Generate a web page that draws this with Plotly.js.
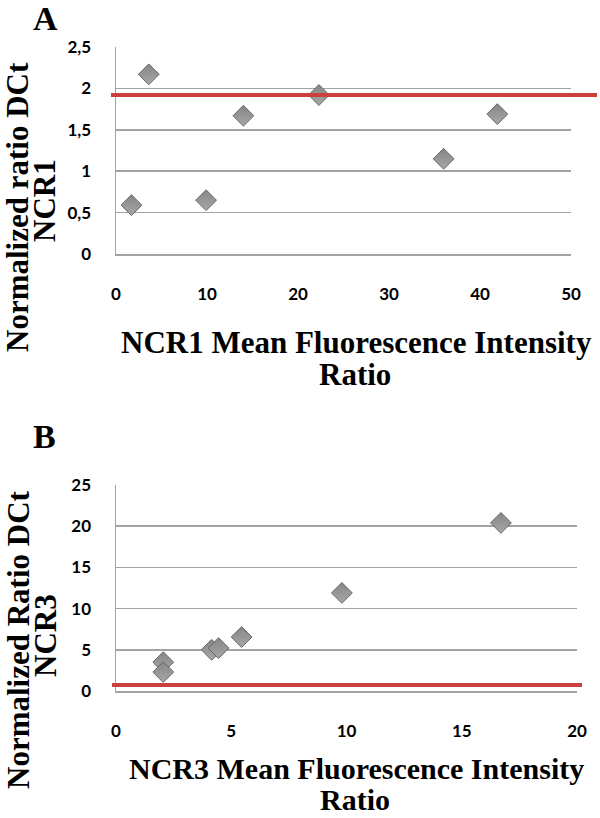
<!DOCTYPE html>
<html>
<head>
<meta charset="utf-8">
<script src="https://cdn.plot.ly/plotly-3.0.1.min.js"></script>
<style>html,body{margin:0;padding:0;background:#fff;}#chart{width:600px;height:818px;}</style>
</head>
<body>
<div id="chart"></div>
<script>
// Panel A data (NCR1)
var ncr1MFI = [1.7, 3.6, 9.9, 14.0, 22.3, 36.0, 41.9];
var ncr1Ratio = [0.59, 2.17, 0.65, 1.67, 1.92, 1.15, 1.69];
var ncr1Threshold = 1.92;
var ncr1XTicks = [0, 10, 20, 30, 40, 50];
var ncr1YTicks = [0, 0.5, 1, 1.5, 2, 2.5];
var ncr1YTickText = ["0", "0,5", "1", "1,5", "2", "2,5"];

// Panel B data (NCR3)
var ncr3MFI = [2.05, 2.05, 4.15, 4.45, 5.45, 9.8, 16.7];
var ncr3Ratio = [3.5, 2.3, 5.0, 5.2, 6.55, 11.9, 20.4];
var ncr3Threshold = 0.73;
var ncr3XTicks = [0, 5, 10, 15, 20];
var ncr3YTicks = [0, 5, 10, 15, 20, 25];
var ncr3YTickText = ["0", "5", "10", "15", "20", "25"];

var W = 600, H = 818;
function px(x){ return x / W; }
function py(y){ return 1 - y / H; }

var markerStyle = {
  symbol: 'diamond', size: 16, color: '#858585',
  line: {color: '#686868', width: 1},
  gradient: {type: 'vertical', color: '#a8a8a8'}
};

var traces = [
  {x: ncr1MFI, y: ncr1Ratio, type: 'scatter', mode: 'markers', marker: markerStyle, xaxis: 'x', yaxis: 'y', hoverinfo: 'skip'},
  {x: ncr3MFI, y: ncr3Ratio, type: 'scatter', mode: 'markers', marker: markerStyle, xaxis: 'x2', yaxis: 'y2', hoverinfo: 'skip'}
];

var tickFont = {family: 'Lato, "Open Sans", sans-serif', size: 17, color: '#000', weight: 'bold'};
var gridCol = '#a3a3a3';

function xAxis(domain, anchor, range, ticks){
  return {domain: domain, anchor: anchor, range: range, tickmode: 'array', tickvals: ticks,
    ticktext: ticks.map(String), showgrid: false, zeroline: false, showline: true,
    linecolor: gridCol, linewidth: 1.5, ticks: '', tickfont: tickFont, ticklabelstandoff: 24, fixedrange: true};
}
function yAxis(domain, anchor, range, ticks, text){
  return {domain: domain, anchor: anchor, range: range, tickmode: 'array', tickvals: ticks,
    ticktext: text, showgrid: true, gridcolor: gridCol, gridwidth: 1.5, zeroline: false,
    showline: true, linecolor: gridCol, linewidth: 1.5, ticks: '', tickfont: tickFont,
    ticklabelstandoff: 20, fixedrange: true};
}

var serif = {family: '"Liberation Serif", "Times New Roman", serif', color: '#000', weight: 'bold'};
function ann(text, x, y, size, angle){
  return {text: text, xref: 'paper', yref: 'paper', x: px(x), y: py(y), xanchor: 'center', yanchor: 'middle',
    showarrow: false, textangle: angle || 0, font: Object.assign({}, serif, {size: size})};
}

var layout = {
  width: W, height: H, autosize: false,
  margin: {l: 0, r: 0, t: 0, b: 0, pad: 0},
  paper_bgcolor: '#fff', plot_bgcolor: '#fff',
  showlegend: false,
  separators: ',.',
  xaxis: xAxis([px(116), px(571)], 'y', [0, 50], ncr1XTicks),
  yaxis: yAxis([py(254), py(47)], 'x', [0, 2.5], ncr1YTicks, ncr1YTickText),
  xaxis2: xAxis([px(116), px(577)], 'y2', [0, 20], ncr3XTicks),
  yaxis2: yAxis([py(691), py(485)], 'x2', [0, 25], ncr3YTicks, ncr3YTickText),
  shapes: [
    {type: 'line', xref: 'paper', yref: 'y', x0: px(111), x1: px(597), y0: ncr1Threshold, y1: ncr1Threshold,
     line: {color: '#c9403f', width: 4}},
    {type: 'line', xref: 'paper', yref: 'y2', x0: px(112), x1: px(582), y0: ncr3Threshold, y1: ncr3Threshold,
     line: {color: '#c9403f', width: 4}}
  ],
  annotations: [
    ann('A', 45, 18, 34),
    ann('B', 44, 436, 34),
    ann('Normalized ratio DCt', 18, 207, 31, -90),
    ann('NCR1', 45, 201, 31, -90),
    ann('NCR1 Mean Fluorescence Intensity', 356, 342, 31),
    ann('Ratio', 355, 374, 31),
    ann('Normalized Ratio DCt', 18, 640, 31, -90),
    ann('NCR3', 45, 636, 31, -90),
    ann('NCR3 Mean Fluorescence Intensity', 356, 768, 30),
    ann('Ratio', 355, 799, 30)
  ]
};

Plotly.newPlot('chart', traces, layout, {displayModeBar: false, staticPlot: true});
</script>
</body>
</html>
